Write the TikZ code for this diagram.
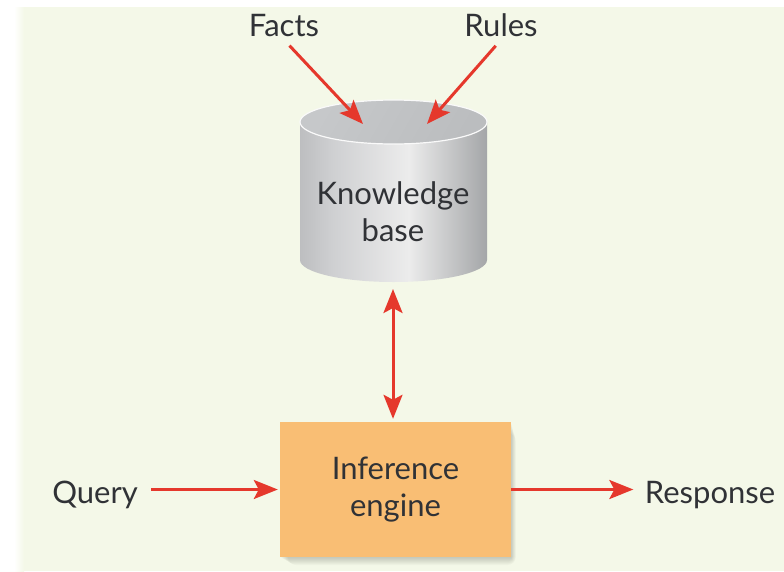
\documentclass[tikz,border=0pt]{standalone}
\usepackage{fontspec}
\setmainfont{Lato}
\usetikzlibrary{positioning,arrows.meta}
\definecolor{bgcream}{HTML}{F4F8E8}
\definecolor{arrowred}{HTML}{E5382C}
\definecolor{boxorange}{HTML}{F9BE74}
\definecolor{txtgray}{HTML}{303236}
\definecolor{cylA}{HTML}{BDBEC0}
\definecolor{cylB}{HTML}{CFD0D2}
\definecolor{cylM}{HTML}{ECECEC}
\definecolor{cylR}{HTML}{A4A6A8}
\definecolor{topA}{HTML}{C6C8CA}
\definecolor{topR}{HTML}{BBBDBF}
\pgfdeclarehorizontalshading{cylbody}{100bp}{color(0bp)=(cylA); color(25bp)=(cylA); color(34bp)=(cylB);
  color(54bp)=(cylM); color(75bp)=(cylR); color(100bp)=(cylR)}
\tikzset{
  lbltext/.style={font=\fontsize{31}{37}\selectfont, text=txtgray},
  redarrow/.style={draw=arrowred, line width=3pt, -{Stealth[length=24pt,width=19pt,inset=5pt]}},
  dblarrow/.style={draw=arrowred, line width=3pt, {Stealth[length=24pt,width=19pt,inset=5pt]}-{Stealth[length=24pt,width=19pt,inset=5pt]}},
}
\begin{document}
\begin{tikzpicture}[x=1pt, y=-1pt, line join=round]
\def\cxl{300} \def\cxr{487} \def\cytop{122} \def\cybot{260}
\useasboundingbox (0,0) rectangle (784,571);
% background
\fill[bgcream] (22,7) rectangle (784,571);
\shade[left color=white, right color=bgcream] (14,7) rectangle (24,571);
% knowledge base cylinder
\shade[shading=cylbody]
  (\cxl,\cytop) -- (\cxl,\cybot) arc[start angle=180, end angle=360, x radius=93.5pt, y radius=22pt]
  -- (\cxr,\cytop) -- cycle;
\shade[left color=topA, middle color=white!94!gray, right color=topR, shading angle=60, draw=white!96!gray, line width=1.2pt]
  (393.5,\cytop) ellipse[x radius=93.5pt, y radius=22pt];
\node[lbltext, align=center] (kb) at (393,212) {Knowledge\\base};
\coordinate (kbport) at (393,282);
\coordinate (factstip) at (363,124);
\coordinate (rulestip) at (427,124);
\node[lbltext, anchor=base] (facts) at (284,36) {Facts};
\node[lbltext, anchor=base] (rules) at (501,36) {Rules};
% inference engine
\foreach \s in {1,...,8}
  \fill[black, opacity=0.025, rounded corners=\s pt] (280+\s,422+1.4*\s) rectangle (511+0.6*\s,557+\s);
\node[lbltext, align=center, fill=boxorange, minimum width=231pt, minimum height=135pt] (engine) at (395.5,489.5) {Inference\\engine};
\node[lbltext, anchor=base] (query) at (95,503) {Query};
\node[lbltext, anchor=base] (resp) at (710,503) {Response};
% connectors
\draw[redarrow, shorten <=8pt] (facts.south) -- (factstip);
\draw[redarrow, shorten <=8pt] (rules.south) -- (rulestip);
\draw[dblarrow, shorten <=7pt, shorten >=3pt] (kbport) -- (kbport |- engine.north);
\draw[redarrow, shorten <=10pt, shorten >=2pt] (query.east |- engine.west) -- (engine.west);
\draw[redarrow, shorten >=8pt] (engine.east) -- (resp.west |- engine.east);
\end{tikzpicture}
\end{document}
